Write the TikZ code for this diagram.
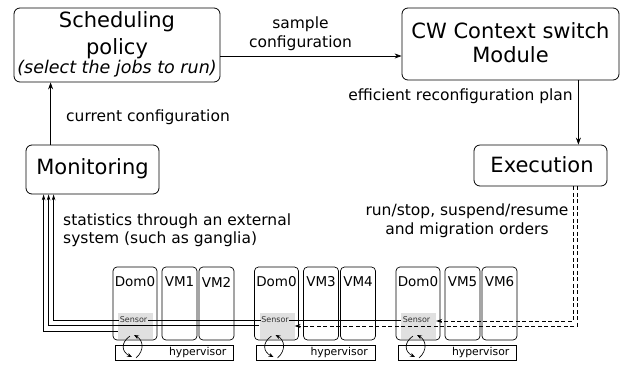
\documentclass[tikz,border=0pt]{standalone}
\usepackage{fontspec}
\setmainfont{DejaVu Sans}
\usetikzlibrary{arrows.meta}
\begin{document}
\begin{tikzpicture}[x=1pt,y=-1pt,
  mainbox/.style={draw, rounded corners=6pt, line width=0.8pt, inner sep=0pt},
  vmbox/.style={draw, rounded corners=4pt, line width=0.7pt, inner sep=0pt, minimum height=73pt},
  hvbox/.style={draw, line width=0.7pt, inner sep=0pt, minimum height=15pt, minimum width=118.5pt},
  sensorbg/.style={fill=black!12, inner sep=0pt, minimum width=35pt, minimum height=26pt},
  big/.style={font=\fontsize{21}{25}\selectfont, inner sep=0pt},
  small/.style={font=\fontsize{15.5}{19}\selectfont, inner sep=0pt},
  vmlabel/.style={font=\fontsize{13.5}{16}\selectfont, inner sep=0pt},
  tinylabel/.style={font=\fontsize{8}{9}\selectfont, inner sep=0.6pt, fill=black!12, text=black!80},
  hvlabel/.style={font=\fontsize{10.8}{12}\selectfont, inner sep=0pt, anchor=east},
  arr/.style={-{Stealth[length=7pt,width=5pt]}, line width=0.7pt},
  arrs/.style={-{Stealth[length=6pt,width=3.6pt]}, line width=0.7pt},
  dsh/.style={-{Stealth[length=6pt,width=4pt]}, line width=0.7pt, dash pattern=on 4pt off 2.5pt},
  curv/.style={-{Stealth[length=5pt,width=4pt]}, line width=0.65pt}]
\useasboundingbox (0,0) rectangle (632,365);

% top boxes
\node[mainbox, minimum width=206pt, minimum height=74pt] (sched) at (117,45) {};
\node[big] (schedA) at (117,22) {Scheduling};
\node[big] (schedB) at (117,49) {policy};
\node[font=\fontsize{17.5}{20}\selectfont\itshape, inner sep=0pt] (schedC) at (117,69) {(select the jobs to run)};

\node[mainbox, minimum width=217pt, minimum height=72pt] (cw) at (510.5,44) {};
\node[big] (cwA) at (510.5,31) {CW Context switch};
\node[big] (cwB) at (510.5,55) {Module};

\node[mainbox, minimum width=133pt, minimum height=49pt] (mon) at (92.5,169.5) {};
\node[big] (monT) at (92.5,169) {Monitoring};

\node[mainbox, minimum width=133pt, minimum height=41pt] (exe) at (540.5,165.5) {};
\node[big] (exeT) at (542,165) {Execution};

% labels
\node[small] (lsample) at (300.5,24) {sample};
\node[small] (lconf) at (300.5,43) {configuration};
\node[small] (lcur) at (148,117) {current configuration};
\node[small] (leff) at (460.5,96) {efficient reconfiguration plan};
\node[small, anchor=west] (lstatA) at (63,221) {statistics through an external};
\node[small, anchor=west] (lstatB) at (63,239) {system (such as ganglia)};
\node[small] (lrunA) at (467,211) {run/stop, suspend/resume};
\node[small] (lrunB) at (467,230) {and migration orders};

% top connectors
\draw[arr] (sched.east |- 0,56) -- (cw.west |- 0,56);
\draw[arr] ([xshift=25pt]mon.north west) -- ([xshift=25pt]mon.north west |- sched.south);
\draw[arr] ([xshift=-41pt]cw.south east) -- ([xshift=-41pt]cw.south east |- exe.north);

% machine groups
\foreach \i/\xo/\va/\vb in {1/113/VM1/VM2, 2/254.5/VM3/VM4, 3/396/VM5/VM6}{
  \node[vmbox, minimum width=44pt] (dom\i) at (\xo+22,303.5) {};
  \node[vmbox, minimum width=35pt] (vma\i) at (\xo+66.5,303.5) {};
  \node[vmbox, minimum width=35pt] (vmb\i) at (\xo+103.5,303.5) {};
  \node[vmlabel] (domT\i) at (\xo+22,282) {Dom0};
  \node[vmlabel] (vmaT\i) at (\xo+66.5,282) {\va};
  \node[vmlabel] (vmbT\i) at (\xo+103.5,282) {\vb};
  \node[sensorbg] (sen\i) at (\xo+22.5,326) {};
  \node[hvbox] (hv\i) at (\xo+61.25,352.5) {};
  \node[hvlabel] (hvT\i) at (\xo+113.5,352.5) {hypervisor};
}

% monitoring lines
\draw[arrs] (sen1.west |- 0,331) -| ([xshift=18pt]mon.south west);
\draw[arrs] (sen2.west |- 0,325.5) -| ([xshift=23pt]mon.south west);
\draw[arrs] (sen3.west |- 0,320) -| ([xshift=28pt]mon.south west);

% execution dashed lines
\draw[dsh] ([xshift=-34pt]exe.south east) |- (sen3.east |- 0,321);
\draw[dsh] ([xshift=-30pt]exe.south east) |- (sen2.east |- 0,326);

% sensor labels and loops
\foreach \i/\xo in {1/113, 2/254.5, 3/396}{
  \node[tinylabel] (senT\i) at (\xo+20.5,319.5) {Sensor};
  \draw[curv] (\xo+17,336) .. controls (\xo+7,343) and (\xo+9,352) .. (\xo+19,357);
  \draw[curv] (\xo+23,358) .. controls (\xo+32,350) and (\xo+30,340) .. (\xo+21,335);
}
\end{tikzpicture}
\end{document}
